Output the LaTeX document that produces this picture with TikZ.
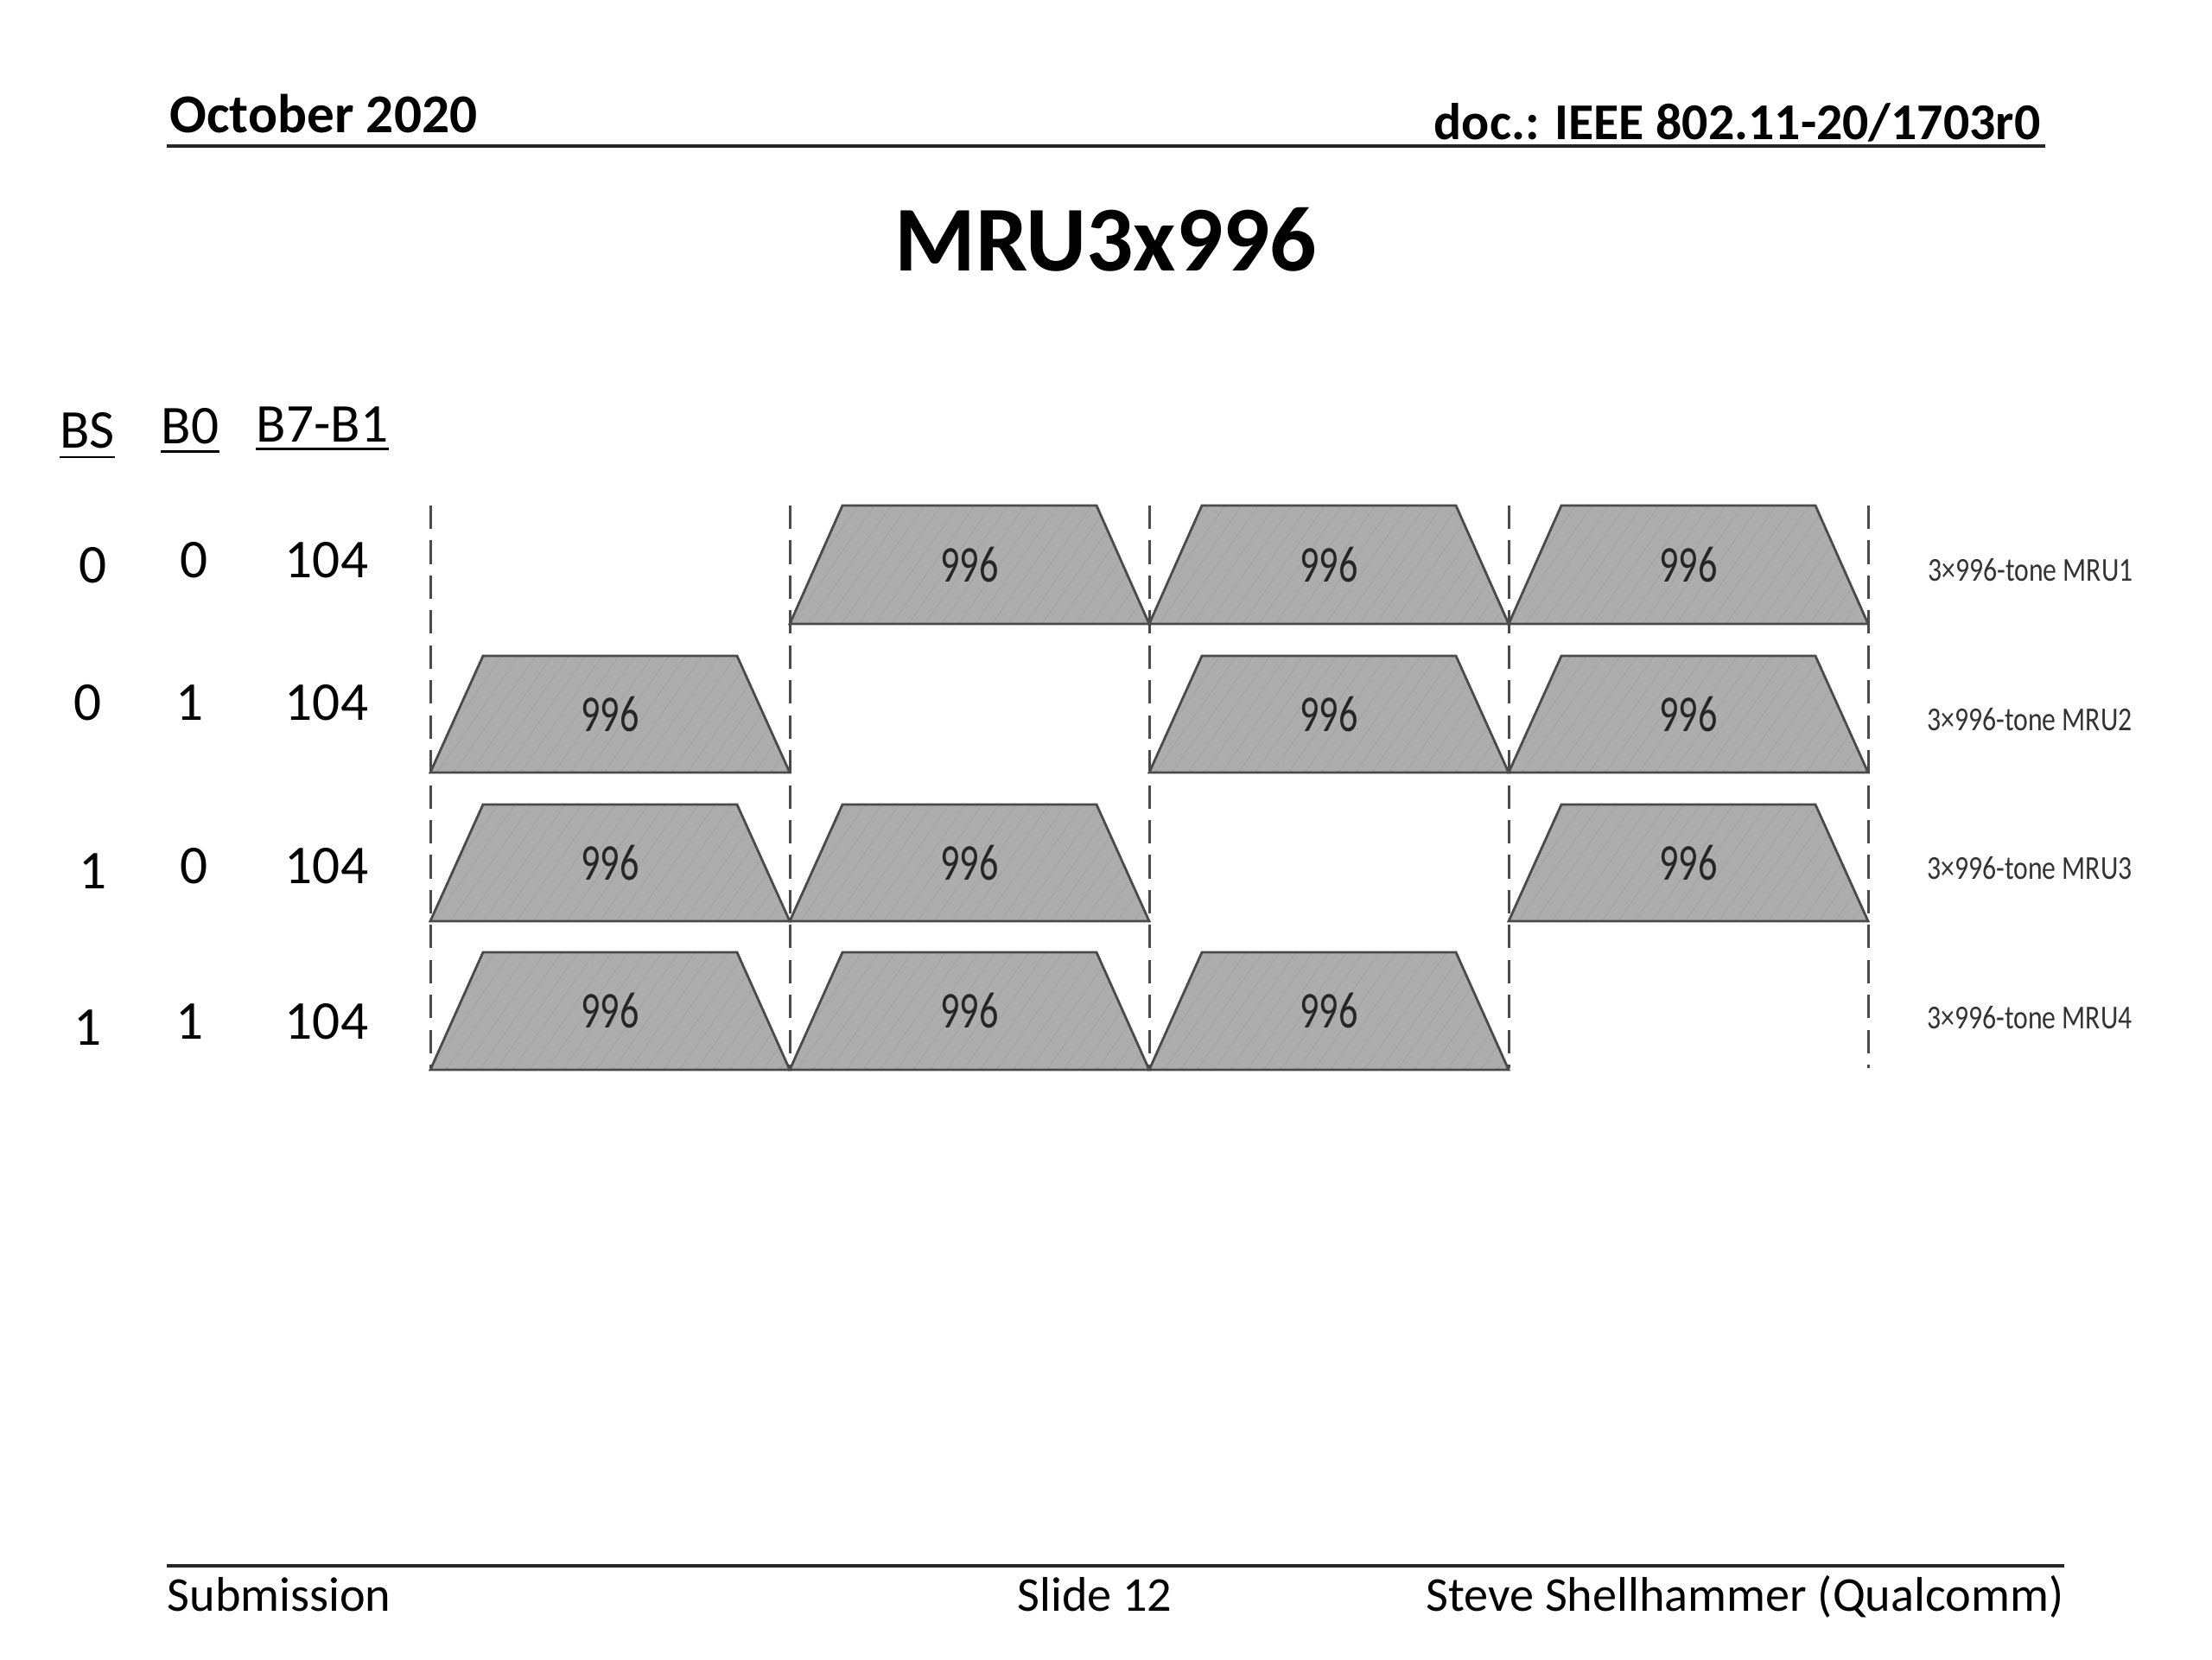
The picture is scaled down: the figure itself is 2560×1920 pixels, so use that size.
\documentclass[tikz,border=0pt]{standalone}
\usepackage{fontspec}
\setmainfont{Carlito}
\usetikzlibrary{patterns.meta}
\definecolor{trapfill}{HTML}{ADADAD}
\definecolor{trapline}{HTML}{4A4A4A}
\definecolor{hatchcol}{HTML}{A4A4A4}
\newcommand{\trapbox}[4]{%
  \draw[trap] (#2,#4) -- ({#2+61},#3) -- ({#2+355},#3) -- ({#2+416},#4) -- cycle;
  \node[ru] (#1) at ({#2+208},{(#3+#4)/2}) {\scalebox{0.74}[1]{996}};
}
\begin{document}
\begin{tikzpicture}[x=0.01cm,y=-0.01cm,
  hdr/.style={font=\fontsize{18}{21}\selectfont\bfseries, inner sep=0pt},
  ttl/.style={font=\fontsize{30.5}{36}\selectfont\bfseries, inner sep=0pt},
  ftr/.style={font=\fontsize{16}{19}\selectfont, inner sep=0pt},
  tab/.style={font=\fontsize{18}{21}\selectfont, inner sep=0pt},
  ru/.style={font=\fontsize{17}{20}\selectfont, inner sep=0pt, text=black!85},
  mru/.style={font=\fontsize{11}{13}\selectfont, inner sep=0pt, text=black!80},
  trap/.style={draw=trapline, line width=0.8pt, line join=miter,
    preaction={fill=trapfill},
    pattern={Lines[angle=55,distance=4.5pt,line width=0.3pt]}, pattern color=hatchcol},
  sepline/.style={draw=trapline, line width=0.85pt, dash pattern=on 7.7pt off 3.8pt},
  rulel/.style={line width=0.9pt, draw=black!85},
  uline/.style={line width=0.8pt, draw=black}
]
\useasboundingbox (0,0) rectangle (2560,1920);

% header
\node[hdr, anchor=base west] (date) at (196,153) {October 2020};
\node[hdr, font=\fontsize{17}{20}\selectfont\bfseries, anchor=base east] (doc) at (2362,161) {doc.: IEEE 802.11-20/1703r0};
\coordinate (hl) at (193,169);
\coordinate (hr) at (2367,169);
\draw[rulel] (hl) -- (hr);

% title
\node[ttl, anchor=base] (title) at (1280,313) {MRU3x996};

% table headings
\node[tab, anchor=base] (hbs) at (101,518) {BS};
\node[tab, anchor=base] (hb0) at (220,513) {B0};
\node[tab, anchor=base] (hb71) at (373,511) {B7-B1};
\draw[uline] ([yshift=-3.1pt]hbs.base west) -- ([yshift=-3.1pt]hbs.base east);
\draw[uline] ([yshift=-2.8pt]hb0.base west) -- ([yshift=-2.8pt]hb0.base east);
\draw[uline] ([yshift=-2.3pt]hb71.base west) -- ([yshift=-2.3pt]hb71.base east);

% table values
\node[tab] (r1bs) at (108,654) {0};
\node[tab] (r1b0) at (225,648) {0};
\node[tab] (r1b) at (378,648) {104};
\node[tab] (r2bs) at (102,813) {0};
\node[tab] (r2b0) at (220,813) {1};
\node[tab] (r2b) at (378,813) {104};
\node[tab] (r3bs) at (108,1008) {1};
\node[tab] (r3b0) at (225,1002) {0};
\node[tab] (r3b) at (378,1002) {104};
\node[tab] (r4bs) at (102,1189) {1};
\node[tab] (r4b0) at (220,1182) {1};
\node[tab] (r4b) at (378,1182) {104};

% trapezoids
\trapbox{t12}{914}{585}{722}
\trapbox{t13}{1330}{585}{722}
\trapbox{t14}{1746}{585}{722}
\trapbox{t21}{498}{759}{894}
\trapbox{t23}{1330}{759}{894}
\trapbox{t24}{1746}{759}{894}
\trapbox{t31}{498}{931}{1066}
\trapbox{t32}{914}{931}{1066}
\trapbox{t34}{1746}{931}{1066}
\trapbox{t41}{498}{1102}{1238}
\trapbox{t42}{914}{1102}{1238}
\trapbox{t43}{1330}{1102}{1238}

% dashed separators
\foreach \i/\xx in {1/498,2/914,3/1330,4/1746,5/2162}{
  \coordinate (d\i t) at (\xx,585);
  \coordinate (d\i b) at (\xx,1236);
  \draw[sepline] (d\i t) -- (d\i b);
}

% MRU labels
\node[mru] (m1) at (2350,660) {\scalebox{0.82}[1]{3×996-tone MRU1}};
\node[mru] (m2) at (2349,833) {\scalebox{0.82}[1]{3×996-tone MRU2}};
\node[mru] (m3) at (2349,1005) {\scalebox{0.82}[1]{3×996-tone MRU3}};
\node[mru] (m4) at (2349,1178) {\scalebox{0.82}[1]{3×996-tone MRU4}};

% footer
\coordinate (fl) at (193,1812);
\coordinate (fr) at (2389,1812);
\draw[rulel] (fl) -- (fr);
\node[ftr, anchor=base west] (sub) at (193,1864) {Submission};
\node[ftr, anchor=base] (slide) at (1267,1864) {Slide 12};
\node[ftr, anchor=base east] (auth) at (2389,1864) {Steve Shellhammer (Qualcomm)};
\end{tikzpicture}
\end{document}
